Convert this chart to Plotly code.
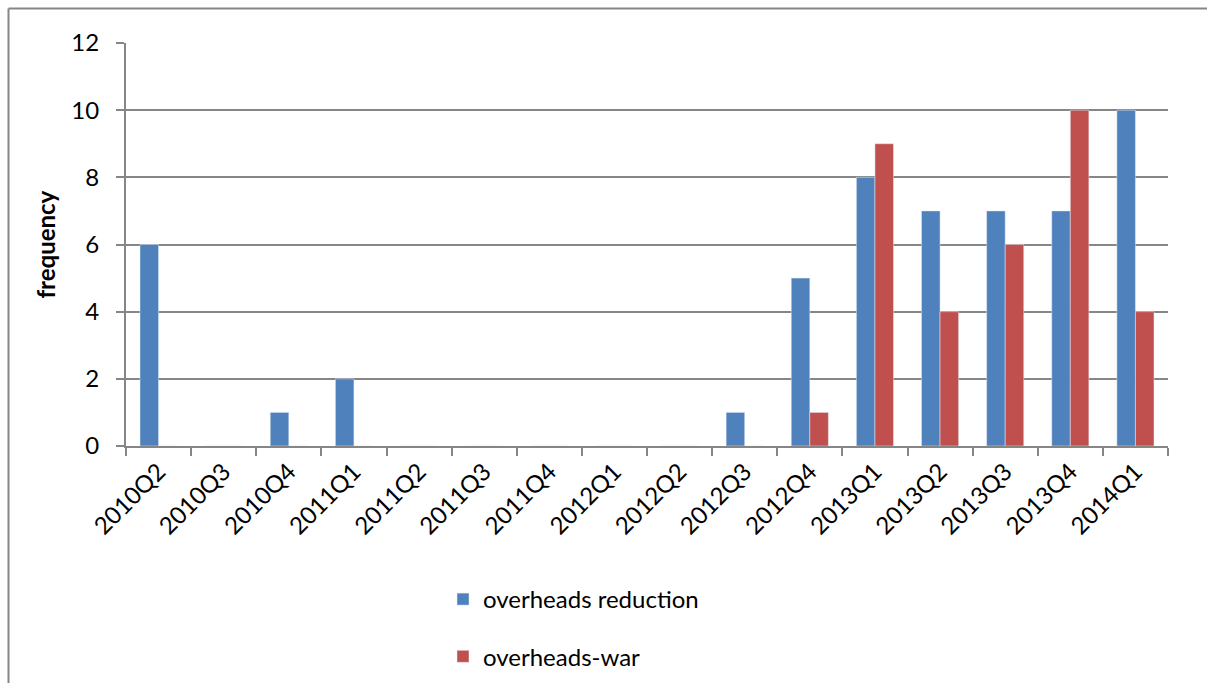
import plotly.graph_objects as go

# Quarterly counts for the two terms
quarters = ["2010Q2", "2010Q3", "2010Q4", "2011Q1", "2011Q2", "2011Q3", "2011Q4",
            "2012Q1", "2012Q2", "2012Q3", "2012Q4", "2013Q1", "2013Q2", "2013Q3",
            "2013Q4", "2014Q1"]
overheads_reduction = [6, 0, 1, 2, 0, 0, 0, 0, 0, 1, 5, 8, 7, 7, 7, 10]
overheads_war = [0, 0, 0, 0, 0, 0, 0, 0, 0, 0, 1, 9, 4, 6, 10, 4]
y_ticks = [0, 2, 4, 6, 8, 10, 12]

W, H = 1207, 683
L, R, T, B = 126, 1168, 43, 446
FONT = "Lato, Carlito, Calibri, sans-serif"
FS = 24
GRID = "#868686"


def px_x(px):
    return (px - L) / (R - L)


def px_y(py):
    return (B - py) / (B - T)


fig = go.Figure()
fig.add_trace(go.Bar(x=quarters, y=overheads_reduction, name="overheads reduction",
                     marker_color="#4F81BD", legendgroup="a"))
fig.add_trace(go.Bar(x=quarters, y=overheads_war, name="overheads-war",
                     marker_color="#C0504D", legendgroup="b"))

fig.update_layout(
    width=W, height=H,
    margin=dict(l=L, r=W - R, t=T, b=H - B, autoexpand=False),
    paper_bgcolor="white", plot_bgcolor="white",
    barmode="group", bargap=0.43, bargroupgap=0,
    font=dict(family=FONT, size=FS, color="black"),
    showlegend=True,
    legend=dict(xref="container", yref="container",
                x=443 / W, y=1 - 577 / H, xanchor="left", yanchor="top",
                orientation="v", traceorder="grouped", tracegroupgap=23,
                font=dict(size=FS, family=FONT), itemwidth=30,
                bgcolor="rgba(0,0,0,0)"),
    xaxis=dict(type="category", tickson="boundaries", ticks="outside", ticklen=8,
               tickcolor=GRID, tickwidth=2, showline=True, linecolor=GRID, linewidth=2,
               tickangle=-45, showgrid=False, automargin=False,
               tickfont=dict(size=FS, family=FONT)),
    yaxis=dict(range=[0, 12], tickvals=y_ticks, ticks="outside", ticklen=8,
               tickcolor=GRID, tickwidth=2, showline=True, linecolor=GRID, linewidth=2,
               showgrid=True, gridcolor=GRID, gridwidth=2, zeroline=False,
               automargin=False, ticklabelstandoff=12,
               tickfont=dict(size=FS, family=FONT)),
    annotations=[dict(text="<b>frequency</b>", textangle=-90, xref="paper", yref="paper",
                      x=px_x(45), y=0.5, xanchor="center", yanchor="middle",
                      showarrow=False, font=dict(size=FS, family=FONT))],
    shapes=[
        dict(type="line", xref="paper", yref="paper", x0=px_x(8.5), x1=px_x(8.5),
             y0=px_y(8.5), y1=px_y(H + 2), line=dict(color=GRID, width=2)),
        dict(type="line", xref="paper", yref="paper", x0=px_x(8.5), x1=px_x(W + 2),
             y0=px_y(8.5), y1=px_y(8.5), line=dict(color=GRID, width=2)),
    ],
)

fig.write_html("out.html")
